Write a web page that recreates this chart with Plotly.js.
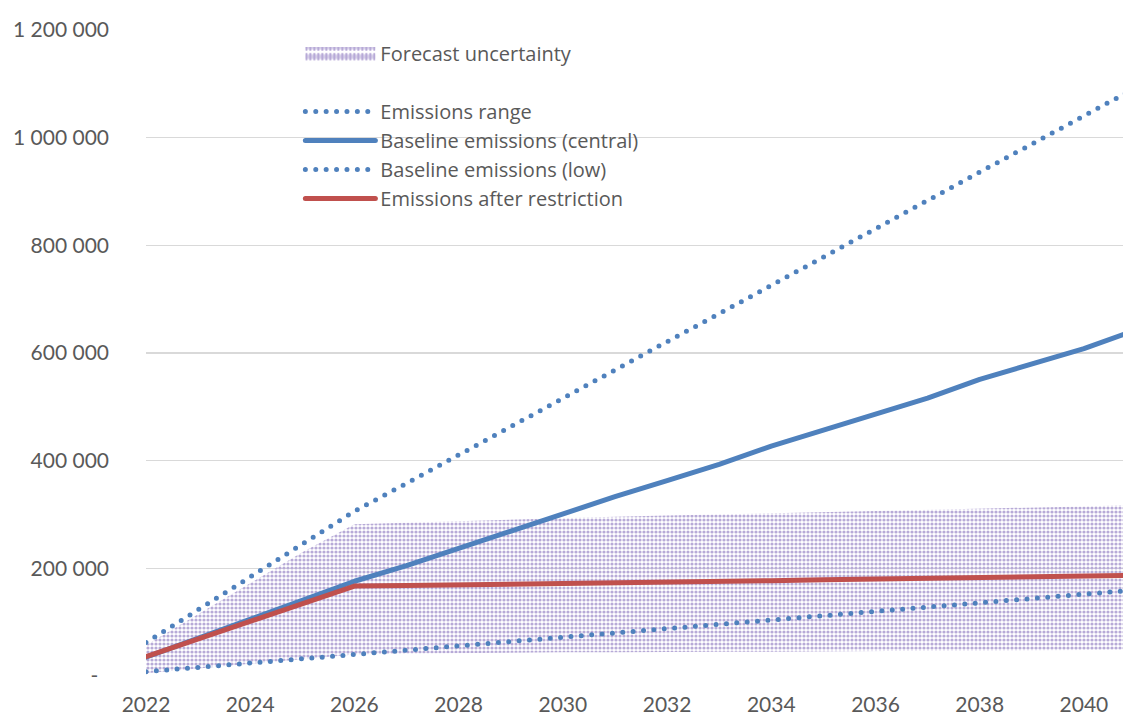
<!DOCTYPE html>
<html>
<head>
<meta charset="utf-8">
<script src="https://cdn.plot.ly/plotly-3.0.1.min.js"></script>
<style>
  html, body { margin: 0; padding: 0; background: #fff; }
  #chart { width: 1123px; height: 716px; }
  .scatterlayer .js-line, .legend .js-line { stroke-linecap: round; stroke-linejoin: round; }
  .legend .legendfill path { transform: translateY(-1.5px) scaleY(2.4); }
</style>
</head>
<body>
<div id="chart"></div>
<script>
const years = [2022,2023,2024,2025,2026,2027,2028,2029,2030,2031,2032,2033,2034,2035,2036,2037,2038,2039,2040,2041];
const bandLow  = [5000,14000,22000,31000,40000,42000,43000,43000,44000,44000,45000,45000,45000,46000,46000,47000,47000,48000,48000,49000];
const bandHigh = [57000,115000,172000,230000,282000,285000,288000,291000,294000,296000,298000,300000,302000,304000,306000,308000,310000,312000,315000,318000];
const emissionsRange = [62000,123000,184000,245000,306000,358000,411000,463000,516000,568000,621000,673000,726000,778000,831000,883000,936000,988000,1041000,1093000];
const baselineCentral = [35000,70000,106000,141000,176000,205000,237000,270000,303000,333000,363000,393000,427000,456000,486000,516000,551000,579000,608000,643000];
const baselineLow = [8000,16000,24000,31000,39000,47000,55000,63000,71000,79000,87000,95000,102000,110000,118000,127000,135000,144000,152000,160000];
const afterRestriction = [36000,69000,102000,135000,167000,168000,169000,170000,171500,173000,174000,175500,177000,179000,180500,181000,183000,184000,185500,187000];

const yTickVals = [0,200000,400000,600000,800000,1000000,1200000];
const yTickText = ['-\u00a0\u00a0','200 000','400 000','600 000','800 000','1 000 000','1 200 000'];
const xTickVals = [2022,2024,2026,2028,2030,2032,2034,2036,2038,2040];

const BLUE = '#4f81bd', RED = '#c0504d', TXT = '#595959';
const FONT = 'Lato, "Open Sans", sans-serif';
const LEGFONT = '"Open Sans", Lato, sans-serif';
const DOT = '0px,10.4px';

const traces = [
  {x: years, y: bandLow, mode: 'lines', line: {width: 0}, showlegend: false, hoverinfo: 'skip', legendgroup: 'g0'},
  {x: years, y: bandHigh, mode: 'lines', line: {width: 0, color: '#b7aad7'}, fill: 'tonexty',
   fillcolor: 'rgba(255,255,255,0)',
   fillpattern: {shape: '.', fgcolor: '#b7aad7', bgcolor: 'rgba(255,255,255,0)', size: 4, solidity: 0.5},
   name: 'Forecast uncertainty', legendgroup: 'g1', legendrank: 1},
  {x: [null], y: [null], mode: 'lines', line: {width: 0}, name: ' ', legendgroup: 'g2', legendrank: 2, hoverinfo: 'skip'},
  {x: years, y: emissionsRange, mode: 'lines', line: {color: BLUE, width: 5, dash: DOT}, name: 'Emissions range', legendgroup: 'g3', legendrank: 3},
  {x: years, y: baselineCentral, mode: 'lines', line: {color: BLUE, width: 5}, name: 'Baseline emissions (central)', legendgroup: 'g4', legendrank: 4},
  {x: years, y: baselineLow, mode: 'lines', line: {color: BLUE, width: 5, dash: DOT}, name: 'Baseline emissions (low)', legendgroup: 'g5', legendrank: 5},
  {x: years, y: afterRestriction, mode: 'lines', line: {color: RED, width: 5}, name: 'Emissions after restriction', legendgroup: 'g6', legendrank: 6}
];

const layout = {
  width: 1123, height: 716,
  margin: {l: 146, r: 0, t: 30, b: 40},
  paper_bgcolor: '#fff', plot_bgcolor: '#fff',
  font: {family: FONT, size: 21, color: TXT},
  showlegend: true,
  legend: {x: 0.158, y: 0.994, xanchor: 'left', yanchor: 'top', traceorder: 'grouped', tracegroupgap: 0,
           itemwidth: 70, font: {family: LEGFONT, size: 20, color: TXT}, bgcolor: 'rgba(0,0,0,0)', itemclick: false},
  xaxis: {range: [2022, 2040.75], tickvals: xTickVals, ticktext: xTickVals.map(String), showgrid: false,
          zeroline: false, showline: false, ticks: '', ticklabelstandoff: 14, tickfont: {family: FONT, size: 21, color: TXT}, fixedrange: true},
  yaxis: {range: [0, 1200000], tickvals: yTickVals, ticktext: yTickText, showgrid: true, gridcolor: '#d9d9d9', gridwidth: 1.5,
          zeroline: false, showline: false, ticks: '', ticklabelstandoff: 36, tickfont: {family: FONT, size: 21, color: TXT}, fixedrange: true}
};

Plotly.newPlot('chart', traces, layout, {displayModeBar: false, staticPlot: true});
</script>
</body>
</html>
